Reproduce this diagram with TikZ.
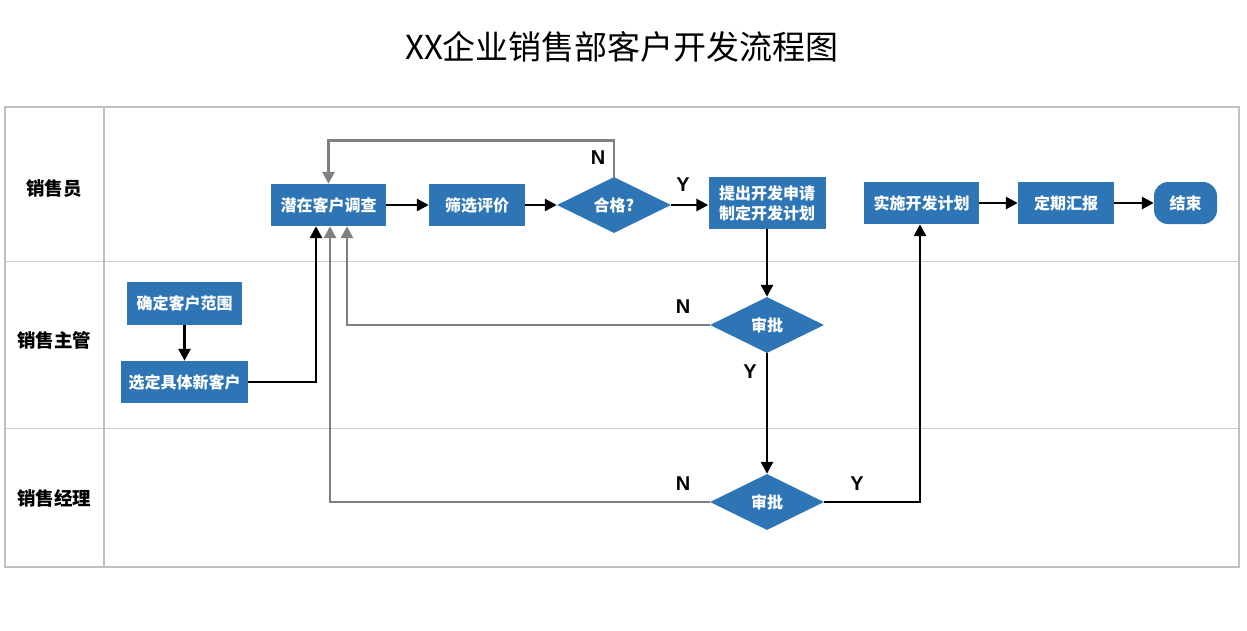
\documentclass[tikz,border=0pt]{standalone}
\usepackage{fontspec}
\setmainfont{Noto Sans CJK SC}
\newfontfamily\lab{Liberation Sans}
\usetikzlibrary{shapes.geometric,arrows.meta}
\definecolor{nodeblue}{HTML}{2E75B6}
\definecolor{frame}{HTML}{C0C0C0}
\definecolor{rowline}{HTML}{CCCCCC}
\definecolor{loopgray}{HTML}{808080}
\tikzset{
  box/.style={fill=nodeblue,draw=none,text=white,font=\fontsize{16}{20}\selectfont\bfseries,inner sep=0pt,align=center},
  dec/.style={diamond,fill=nodeblue,draw=none,text=white,font=\fontsize{16}{20}\selectfont\bfseries,inner sep=0pt,minimum width=114pt,minimum height=56pt},
  lane/.style={font=\fontsize{18.5}{22}\selectfont\bfseries,text=black},
  yn/.style={font=\lab\fontsize{20}{22}\selectfont\bfseries,text=black},
  blk/.style={draw=black,line width=2.7pt,-{Triangle[length=12pt,width=12pt]}},
  gry/.style={draw=loopgray,line width=2.7pt,-{Triangle[length=12pt,width=12pt]}}
}
\begin{document}
\begin{tikzpicture}[x=1pt,y=-1pt]
\useasboundingbox (0,0) rectangle (1247,630);
\fill[white] (0,0) rectangle (1247,630);
% title
\node (title) at (622,47) {\fontsize{33}{40}\selectfont XX企业销售部客户开发流程图};
% swimlane table
\draw[rowline,line width=1pt] (5,261) -- (1239,261);
\draw[rowline,line width=1pt] (5,428) -- (1239,428);
\draw[frame,line width=2pt] (104,107) -- (104,567);
\draw[frame,line width=2pt] (5,107) rectangle (1239,567);
\node[lane] (l1) at (54,189) {销售员};
\node[lane] (l2) at (54,340) {销售主管};
\node[lane] (l3) at (54,498) {销售经理};
% nodes
\node[box,minimum width=115pt,minimum height=42pt] (qz) at (328.5,205) {潜在客户调查};
\node[box,minimum width=96pt,minimum height=42pt] (sx) at (477,205) {筛选评价};
\node[dec] (hg) at (614,205) {合格?};
\node[box,minimum width=117pt,minimum height=52pt] (tc) at (767,203) {提出开发申请\\制定开发计划};
\node[box,minimum width=115pt,minimum height=42pt] (ss) at (921.5,203) {实施开发计划};
\node[box,minimum width=96pt,minimum height=42pt] (dq) at (1066,203) {定期汇报};
\node[box,minimum width=63pt,minimum height=42pt,rounded corners=14pt] (js) at (1185.5,203) {结束};
\node[box,minimum width=115pt,minimum height=43pt] (qd) at (184.5,303.5) {确定客户范围};
\node[box,minimum width=127pt,minimum height=42pt] (xd) at (184.5,382) {选定具体新客户};
\node[dec] (sp1) at (767,325) {审批};
\node[dec] (sp2) at (767,502) {审批};
% connectors
\draw[blk] (qz.east) -- (sx.west);
\draw[blk] (sx.east) -- (hg.west);
\draw[blk] (hg.east) -- (hg.east -| tc.west);
\draw[gry] (hg.north) -- ++(0,-36) -| (qz.north);
\draw[blk] (tc.south) -- (sp1.north);
\draw[gry] (sp1.west) -| ([xshift=18.5pt]qz.south);
\draw[blk] (sp1.south) -- (sp2.north);
\draw[gry] (sp2.west) -| ([xshift=1.5pt]qz.south);
\draw[blk] (sp2.east) -| ([xshift=-1.5pt]ss.south);
\draw[blk] (xd.east) -| ([xshift=-12.5pt]qz.south);
\draw[blk] (qd.south) -- (xd.north);
\draw[blk] (ss.east) -- (dq.west);
\draw[blk] (dq.east) -- (js.west);
% labels
\node[yn] (n1) at (598,158) {N};
\node[yn] (y1) at (683,185) {Y};
\node[yn] (n2) at (683,307) {N};
\node[yn] (y2) at (750,372) {Y};
\node[yn] (n3) at (683,484) {N};
\node[yn] (y3) at (857,484) {Y};
\end{tikzpicture}
\end{document}
